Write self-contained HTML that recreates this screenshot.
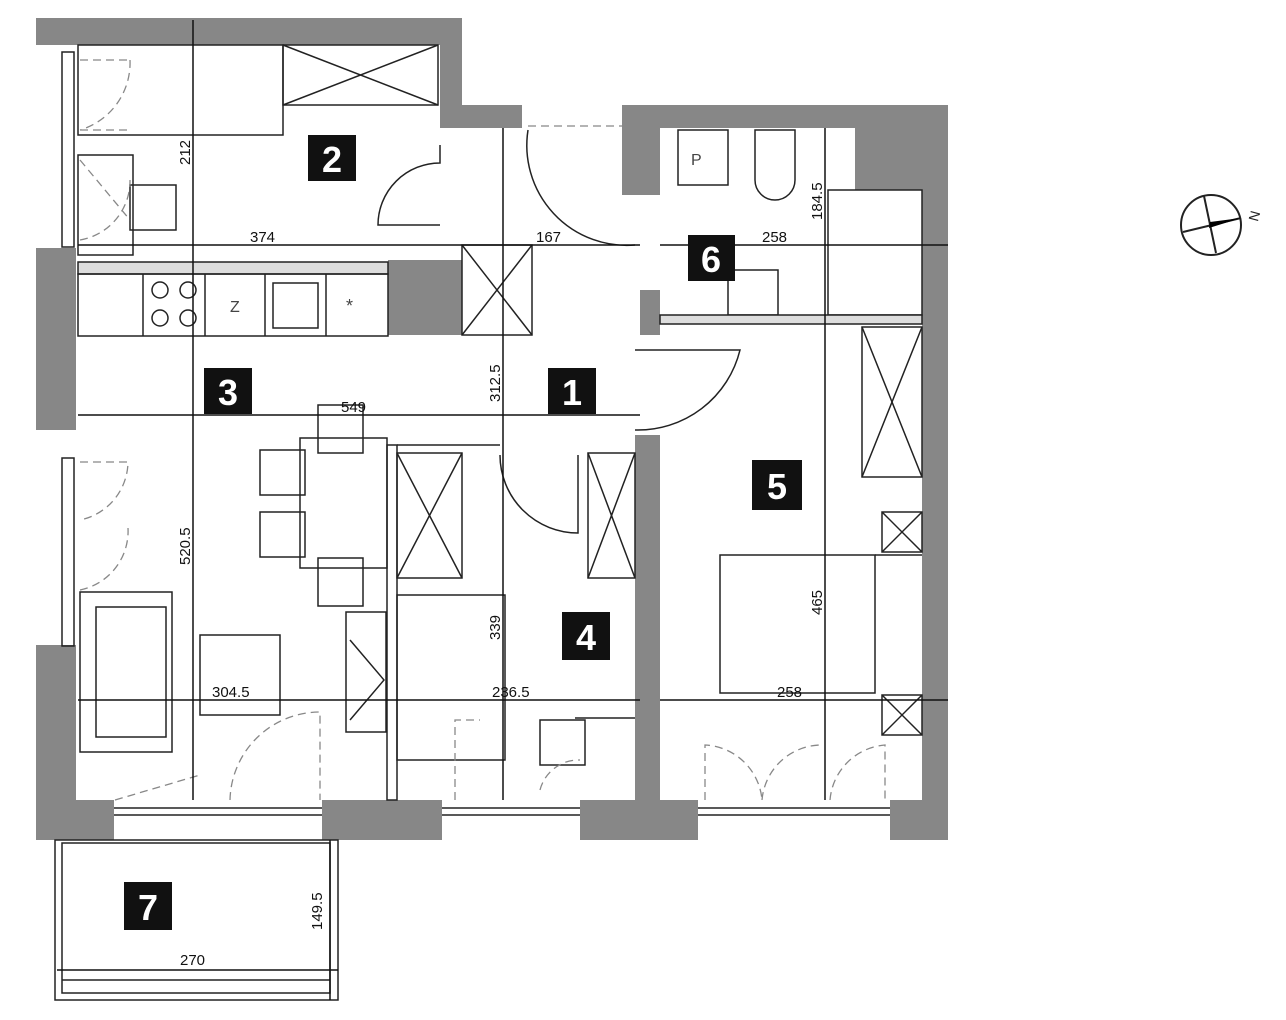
<!DOCTYPE html>
<html><head><meta charset="utf-8"><style>
html,body{margin:0;padding:0;background:#fff;}
svg{display:block}
text{font-family:"Liberation Sans",sans-serif;}
.d{font-size:15px;fill:#111;font-family:"Liberation Sans",sans-serif;}
.lb{font-size:36px;font-weight:bold;fill:#fff;}
</style></head><body>
<svg width="1286" height="1020" viewBox="0 0 1286 1020" xmlns="http://www.w3.org/2000/svg">
<g fill="#878787" stroke="none">
<rect x="36" y="18" width="426" height="27"/>
<rect x="440" y="18" width="22" height="110"/>
<rect x="440" y="105" width="82" height="23"/>
<rect x="36" y="248" width="40" height="182"/>
<rect x="36" y="645" width="40" height="195"/>
<rect x="36" y="800" width="78" height="40"/>
<rect x="322" y="800" width="120" height="40"/>
<rect x="580" y="800" width="118" height="40"/>
<rect x="890" y="800" width="58" height="40"/>
<rect x="622" y="105" width="326" height="23"/>
<rect x="622" y="105" width="38" height="90"/>
<rect x="855" y="105" width="93" height="85"/>
<rect x="922" y="105" width="26" height="735"/>
<rect x="640" y="290" width="20" height="45"/>
<rect x="635" y="435" width="25" height="365"/>
<rect x="388" y="260" width="74" height="75"/>
</g>
<g fill="none" stroke="#222" stroke-width="1.5">
<rect x="62" y="52" width="12" height="195"/><rect x="62" y="458" width="12" height="188"/>
<line x1="114" y1="808" x2="322" y2="808"/><line x1="114" y1="815" x2="322" y2="815"/>
<line x1="442" y1="808" x2="580" y2="808"/><line x1="442" y1="815" x2="580" y2="815"/>
<line x1="698" y1="808" x2="890" y2="808"/><line x1="698" y1="815" x2="890" y2="815"/>
<rect x="283" y="45" width="155" height="60"/><line x1="283" y1="45" x2="438" y2="105"/><line x1="438" y1="45" x2="283" y2="105"/>
<rect x="78" y="45" width="205" height="90"/>
<rect x="78" y="155" width="55" height="100"/><rect x="130" y="185" width="46" height="45"/>
<rect x="78" y="262" width="310" height="12" fill="#ddd"/>
<rect x="78" y="274" width="310" height="62"/>
<line x1="143" y1="274" x2="143" y2="336"/><line x1="205" y1="274" x2="205" y2="336"/><line x1="265" y1="274" x2="265" y2="336"/><line x1="326" y1="274" x2="326" y2="336"/>
<circle cx="160" cy="290" r="8"/><circle cx="188" cy="290" r="8"/><circle cx="160" cy="318" r="8"/><circle cx="188" cy="318" r="8"/>
<rect x="273" y="283" width="45" height="45"/>
<rect x="462" y="245" width="70" height="90"/><line x1="462" y1="245" x2="532" y2="335"/><line x1="532" y1="245" x2="462" y2="335"/>
<rect x="300" y="438" width="87" height="130"/>
<rect x="318" y="405" width="45" height="48"/><rect x="318" y="558" width="45" height="48"/>
<rect x="260" y="450" width="45" height="45"/><rect x="260" y="512" width="45" height="45"/>
<rect x="200" y="635" width="80" height="80"/>
<rect x="346" y="612" width="40" height="120"/><polyline points="350,640 384,680 350,720"/>
<rect x="80" y="592" width="92" height="160"/><rect x="96" y="607" width="70" height="130"/>
<rect x="387" y="445" width="10" height="355"/>
<line x1="397" y1="445" x2="500" y2="445"/>
<rect x="397" y="453" width="65" height="125"/><line x1="397" y1="453" x2="462" y2="578"/><line x1="462" y1="453" x2="397" y2="578"/>
<rect x="588" y="453" width="47" height="125"/><line x1="588" y1="453" x2="635" y2="578"/><line x1="635" y1="453" x2="588" y2="578"/>
<rect x="397" y="595" width="108" height="165"/>
<rect x="540" y="720" width="45" height="45"/>
<line x1="575" y1="718" x2="635" y2="718"/>
<path d="M440 225 L378 225 A62 62 0 0 1 440 163 L440 145"/>
<path d="M635 350 L740 350 A105 105 0 0 1 635 430"/>
<path d="M500 455 A78 78 0 0 0 578 533 L578 455"/>
<path d="M528 130 A100 100 0 0 0 635 245"/>
<rect x="678" y="130" width="50" height="55"/>
<path d="M755 130 L795 130 L795 180 A20 20 0 0 1 755 180 Z"/>
<rect x="828" y="190" width="94" height="125"/>
<rect x="728" y="270" width="50" height="45"/>
<rect x="660" y="315" width="262" height="9" fill="#ddd"/>
<rect x="862" y="327" width="60" height="150"/><line x1="862" y1="327" x2="922" y2="477"/><line x1="922" y1="327" x2="862" y2="477"/>
<rect x="882" y="512" width="40" height="40"/><line x1="882" y1="512" x2="922" y2="552"/><line x1="922" y1="512" x2="882" y2="552"/>
<rect x="882" y="695" width="40" height="40"/><line x1="882" y1="695" x2="922" y2="735"/><line x1="922" y1="695" x2="882" y2="735"/>
<rect x="720" y="555" width="155" height="138"/><line x1="875" y1="555" x2="922" y2="555"/>
<rect x="55" y="840" width="283" height="160"/><rect x="62" y="843" width="268" height="150"/>
<line x1="62" y1="980" x2="330" y2="980"/>
</g>
<g fill="none" stroke="#888" stroke-width="1.3" stroke-dasharray="8 5">
<path d="M80 60 L130 60 M80 130 L130 130 M130 60 A70 70 0 0 1 80 130"/>
<path d="M80 160 L130 220 M80 240 A60 60 0 0 0 130 180"/>
<path d="M80 462 L128 462 A60 60 0 0 1 80 520 M80 590 A60 60 0 0 0 128 528"/>
<path d="M230 800 A90 90 0 0 1 320 712 L320 800 M115 800 L200 775"/>
<path d="M455 800 L455 720 L480 720 M540 790 A40 40 0 0 1 580 760"/>
<path d="M528 126 L622 126"/>
<path d="M705 800 L705 745 A60 60 0 0 1 762 800 M762 800 A60 60 0 0 1 822 745 M830 800 A60 60 0 0 1 885 745 L885 800"/>
</g>
<g stroke="#111" stroke-width="1.5" fill="none">
<line x1="193" y1="20" x2="193" y2="800"/>
<line x1="78" y1="245" x2="640" y2="245"/><line x1="660" y1="245" x2="948" y2="245"/>
<line x1="503" y1="128" x2="503" y2="800"/>
<line x1="78" y1="415" x2="640" y2="415"/>
<line x1="78" y1="700" x2="640" y2="700"/><line x1="660" y1="700" x2="948" y2="700"/>
<line x1="825" y1="128" x2="825" y2="800"/>
<line x1="330" y1="840" x2="330" y2="1000"/>
<line x1="57" y1="970" x2="338" y2="970"/>
</g>
<g class="d">
<text x="250" y="242">374</text><text x="536" y="242">167</text><text x="762" y="242">258</text>
<text x="341" y="412">549</text><text x="212" y="697">304.5</text><text x="492" y="697">236.5</text><text x="777" y="697">258</text>
<text x="180" y="965">270</text>
<text transform="translate(190,165) rotate(-90)">212</text>
<text transform="translate(500,402) rotate(-90)">312.5</text>
<text transform="translate(190,565) rotate(-90)">520.5</text>
<text transform="translate(500,640) rotate(-90)">339</text>
<text transform="translate(822,220) rotate(-90)">184.5</text>
<text transform="translate(822,615) rotate(-90)">465</text>
<text transform="translate(322,930) rotate(-90)">149.5</text>
<text x="691" y="165" font-size="16" fill="#444">P</text>
<text x="230" y="312" font-size="16" fill="#444">Z</text>
<text x="346" y="312" font-size="18" fill="#444">*</text>
</g>
<g fill="#111">
<rect x="308" y="135" width="48" height="46"/><rect x="204" y="368" width="48" height="46"/>
<rect x="548" y="368" width="48" height="46"/><rect x="688" y="235" width="47" height="46"/>
<rect x="752" y="460" width="50" height="50"/><rect x="562" y="612" width="48" height="48"/>
<rect x="124" y="882" width="48" height="48"/>
</g>
<g class="lb" text-anchor="middle">
<text x="332" y="172">2</text><text x="228" y="405">3</text><text x="572" y="405">1</text>
<text x="711" y="272">6</text><text x="777" y="499">5</text><text x="586" y="650">4</text><text x="148" y="920">7</text>
</g>
<g stroke="#222" stroke-width="2" fill="none">
<circle cx="1211" cy="225" r="30"/>
<line x1="1204" y1="196" x2="1216" y2="253"/><line x1="1183" y1="232" x2="1241" y2="218"/>
</g>
<polygon points="1209,228 1241,218 1210,222" fill="#000"/>
<text x="1250" y="222" font-size="14" fill="#222" transform="rotate(-75 1254 217)">N</text>
</svg>
</body></html>
